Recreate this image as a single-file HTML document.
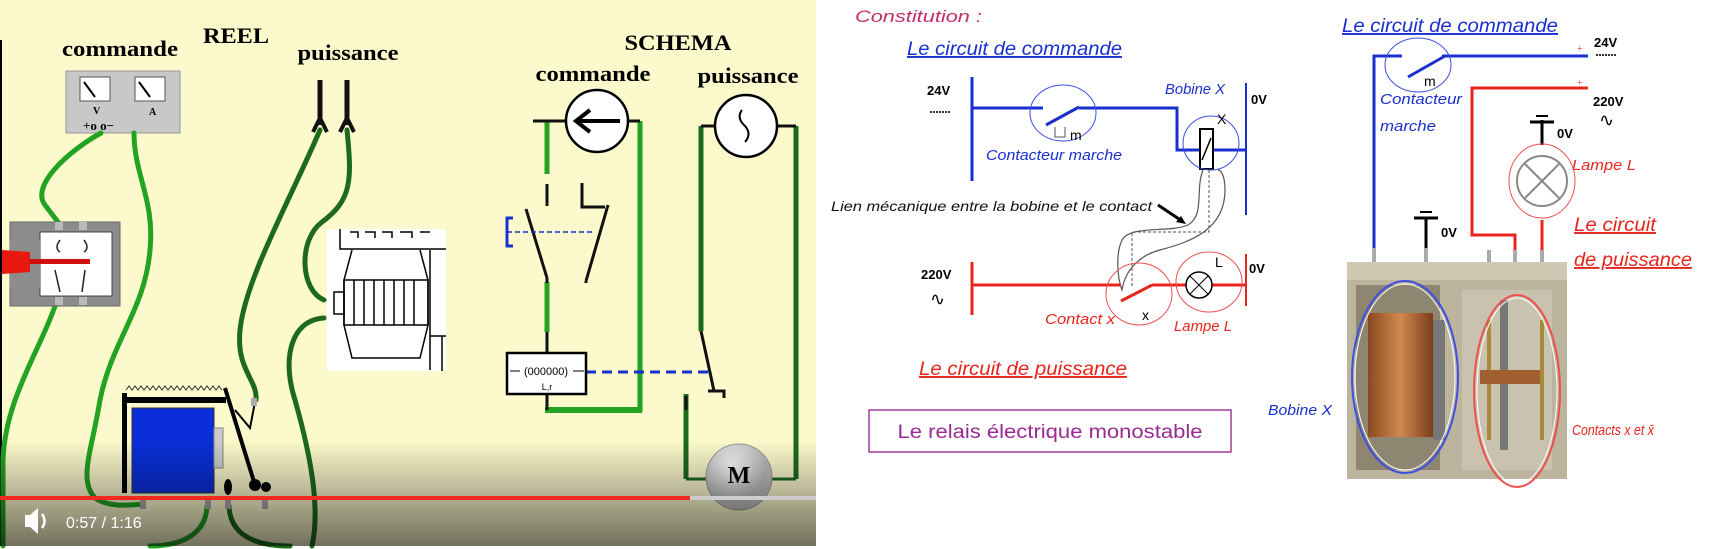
<!DOCTYPE html>
<html><head><meta charset="utf-8"><style>
html,body{margin:0;padding:0;background:#fff;width:1711px;height:549px;overflow:hidden}
svg{display:block}
.s{font-family:"Liberation Serif",serif;font-weight:bold}
.a{font-family:"Liberation Sans",sans-serif;font-style:italic}
</style></head><body>
<svg width="1711" height="549" viewBox="0 0 1711 549" xmlns="http://www.w3.org/2000/svg">
<defs>
<linearGradient id="vb" x1="0" y1="0" x2="0" y2="1"><stop offset="0" stop-color="#000" stop-opacity="0"/><stop offset="1" stop-color="#000" stop-opacity="0.55"/></linearGradient>
<linearGradient id="cu" x1="0" y1="0" x2="1" y2="0"><stop offset="0" stop-color="#8a4a20"/><stop offset="0.5" stop-color="#d08850"/><stop offset="1" stop-color="#7a3e18"/></linearGradient>
<radialGradient id="mg" cx="0.4" cy="0.35"><stop offset="0" stop-color="#fff"/><stop offset="1" stop-color="#bbb"/></radialGradient>
</defs>
<!-- LEFT PANEL -->
<rect x="0" y="0" width="816" height="546" fill="#fcf9cc"/>
<line x1="1" y1="40" x2="1" y2="546" stroke="#000" stroke-width="2"/>
<text class="s" x="120" y="56" font-size="22" text-anchor="middle" textLength="116" lengthAdjust="spacingAndGlyphs">commande</text>
<text class="s" x="236" y="43" font-size="22" text-anchor="middle" textLength="66" lengthAdjust="spacingAndGlyphs">REEL</text>
<text class="s" x="348" y="60" font-size="22" text-anchor="middle" textLength="101" lengthAdjust="spacingAndGlyphs">puissance</text>
<text class="s" x="678" y="50" font-size="22" text-anchor="middle" textLength="107" lengthAdjust="spacingAndGlyphs">SCHEMA</text>
<text class="s" x="593" y="81" font-size="22" text-anchor="middle" textLength="115" lengthAdjust="spacingAndGlyphs">commande</text>
<text class="s" x="748" y="83" font-size="22" text-anchor="middle" textLength="101" lengthAdjust="spacingAndGlyphs">puissance</text>
<!-- meter -->
<rect x="66" y="71" width="114" height="62" fill="#c8c8c8" stroke="#999"/>
<rect x="80" y="77" width="30" height="24" fill="#fff" stroke="#555"/>
<rect x="135" y="77" width="30" height="24" fill="#fff" stroke="#555"/>
<line x1="84" y1="82" x2="95" y2="97" stroke="#000" stroke-width="2"/>
<line x1="139" y1="82" x2="150" y2="97" stroke="#000" stroke-width="2"/>
<text class="s" x="93" y="114" font-size="10">V</text><text class="s" x="149" y="115" font-size="10">A</text>
<text class="s" x="83" y="130" font-size="13">+o o−</text>
<!-- light green wires (commande) -->
<g fill="none" stroke="#22a322" stroke-width="5" stroke-linecap="round">
<path d="M101,133 C70,150 30,185 45,205 L58,222"/>
<path d="M134,133 C134,175 155,200 150,250 C145,310 112,340 100,400 C92,450 78,480 95,498 C110,508 130,505 143,504"/>
<path d="M55,306 C40,350 5,400 3,460 L3,546"/>
<path d="M207,506 C206,535 180,546 150,546"/>
</g>
<!-- dark green wires (puissance) -->
<g fill="none" stroke="#1d6a1d" stroke-width="5" stroke-linecap="round">
<path d="M320,130 C290,200 245,280 240,330 C236,370 258,380 256,400"/>
<path d="M347,130 C352,180 352,200 322,222 C298,240 300,290 324,300"/>
<path d="M324,318 C290,320 282,360 295,400 C312,460 320,510 312,546"/>
<path d="M229,506 C230,535 255,546 290,546"/>
</g>
<!-- plugs -->
<g stroke="#111" stroke-width="5" fill="none"><line x1="320" y1="80" x2="320" y2="125"/><line x1="347" y1="80" x2="347" y2="125"/>
<path d="M313,132 L320,118 L327,132" stroke-width="4"/><path d="M340,132 L347,118 L354,132" stroke-width="4"/></g>
<!-- switch box -->
<rect x="10" y="222" width="110" height="84" fill="#8c8c8c" stroke="#666"/>
<rect x="40" y="232" width="72" height="64" fill="#fff" stroke="#444"/>
<rect x="10" y="240" width="30" height="48" fill="#8c8c8c"/>
<path d="M2,250 L30,252 L30,272 L2,274 Z" fill="#e81a10"/>
<rect x="30" y="259" width="60" height="5" fill="#d01010"/>
<g stroke="#222" stroke-width="1.5" fill="none"><line x1="55" y1="270" x2="60" y2="292"/><line x1="85" y1="270" x2="82" y2="292"/><path d="M60,240 q-6,8 0,12"/><path d="M84,240 q6,8 0,12"/></g>
<rect x="55" y="222" width="8" height="8" fill="#bbb"/><rect x="79" y="222" width="8" height="8" fill="#bbb"/>
<rect x="55" y="297" width="8" height="8" fill="#bbb"/><rect x="79" y="297" width="8" height="8" fill="#bbb"/>
<!-- motor picture -->
<rect x="327" y="229" width="119" height="142" fill="#fff"/>
<g stroke="#000" stroke-width="1.5" fill="none">
<path d="M340,229 v20 h106"/><path d="M350,232 h8 v6 M365,232 h10 v6 M382,232 h10 v6 M400,232 h12 v6 M420,232 h10"/>
<path d="M352,250 L344,280 L344,325 L352,358 L420,358 L428,325 L428,280 L420,250"/>
<rect x="344" y="280" width="84" height="45"/><path d="M354,280v45 M364,280v45 M374,280v45 M384,280v45 M394,280v45 M404,280v45 M414,280v45"/>
<rect x="334" y="292" width="10" height="22"/><path d="M430,250 v120 M430,336 h16 M442,336 v35"/>
</g>
<!-- relay real -->
<path d="M126,390 l3,-4 l3,4 l3,-4 l3,4 l3,-4 l3,4 l3,-4 l3,4 l3,-4 l3,4 l3,-4 l3,4 l3,-4 l3,4 l3,-4 l3,4 l3,-4 l3,4 l3,-4 l3,4 l3,-4 l3,4 l3,-4 l3,4 l3,-4 l3,4 l3,-4 l3,4 l3,-4 l3,4 l3,-4 l3,4" fill="none" stroke="#333" stroke-width="1"/>
<rect x="122" y="393" width="5" height="100" fill="#000"/>
<rect x="122" y="397" width="104" height="6" fill="#000"/>
<rect x="132" y="408" width="82" height="85" fill="#0a2fd8" stroke="#333"/>
<rect x="214" y="428" width="9" height="40" fill="#ccc" stroke="#888"/>
<line x1="225" y1="388" x2="255" y2="485" stroke="#000" stroke-width="4"/>
<path d="M235,410 L250,428 L255,402" fill="none" stroke="#000" stroke-width="2"/>
<circle cx="255" cy="485" r="6" fill="#000"/><circle cx="266" cy="487" r="5" fill="#000"/>
<ellipse cx="228" cy="487" rx="4" ry="8" fill="#000"/>
<rect x="251" y="398" width="6" height="8" fill="#aaa"/>
<g fill="#aaa"><rect x="140" y="500" width="6" height="9"/><rect x="205" y="500" width="6" height="9"/><rect x="225" y="500" width="6" height="9"/><rect x="262" y="500" width="6" height="9"/></g>
<!-- SCHEMA -->
<g fill="none" stroke-width="5" stroke-linecap="butt">
<line x1="547" y1="121" x2="547" y2="174" stroke="#22a322"/>
<line x1="640" y1="121" x2="640" y2="412" stroke="#22a322"/>
<line x1="545" y1="410" x2="642" y2="410" stroke="#22a322" stroke-width="6"/>
<line x1="547" y1="282" x2="547" y2="332" stroke="#22a322"/>
<line x1="701" y1="126" x2="701" y2="331" stroke="#1d6a1d"/>
<line x1="796" y1="126" x2="796" y2="479" stroke="#1d6a1d"/>
<line x1="686" y1="394" x2="686" y2="479" stroke="#1d6a1d"/>
<line x1="686" y1="479" x2="712" y2="479" stroke="#1d6a1d" stroke-width="3"/>
<line x1="766" y1="479" x2="796" y2="479" stroke="#1d6a1d" stroke-width="3"/>
</g>
<g stroke="#111" stroke-width="3" fill="none">
<line x1="547" y1="184" x2="547" y2="206"/>
<line x1="526" y1="209" x2="547" y2="278"/>
<line x1="547" y1="278" x2="547" y2="283"/>
<path d="M582,183 V207 H605"/>
<line x1="608" y1="205" x2="586" y2="281"/>
<line x1="586" y1="281" x2="586" y2="283"/>
<line x1="547" y1="332" x2="547" y2="353"/><line x1="547" y1="394" x2="547" y2="410"/>
<line x1="701" y1="331" x2="714" y2="391"/>
<path d="M708,391 H724 V398"/>
<line x1="686" y1="396" x2="686" y2="410"/>
<line x1="533" y1="121" x2="566" y2="121"/><line x1="628" y1="121" x2="640" y2="121"/>
<line x1="701" y1="126" x2="715" y2="126"/><line x1="777" y1="126" x2="796" y2="126"/>
</g>
<path d="M513,218 H507 V246 H513" fill="none" stroke="#1a2fd0" stroke-width="3"/>
<line x1="507" y1="232" x2="594" y2="232" stroke="#1a2fd0" stroke-width="1.5" stroke-dasharray="5,3"/>
<line x1="586" y1="372" x2="709" y2="372" stroke="#1a2fd0" stroke-width="3" stroke-dasharray="10,6"/>
<circle cx="597" cy="121" r="31" fill="#fff" stroke="#000" stroke-width="2.5"/>
<path d="M620,121 H578 M590,110 L576,121 L590,132" fill="none" stroke="#000" stroke-width="4"/>
<circle cx="746" cy="126" r="31" fill="#fff" stroke="#000" stroke-width="2.5"/>
<path d="M742,110 q-6,8 3,16 q7,8 0,16" fill="none" stroke="#000" stroke-width="2"/>
<rect x="507" y="353" width="79" height="41" fill="#fff" stroke="#000" stroke-width="2.5"/>
<line x1="510" y1="371" x2="520" y2="371" stroke="#000"/><line x1="573" y1="371" x2="584" y2="371" stroke="#000"/>
<text x="546" y="375" font-family="Liberation Sans" font-size="11" text-anchor="middle">(000000)</text>
<text x="547" y="390" font-family="Liberation Sans" font-size="9" text-anchor="middle">L,r</text>
<circle cx="739" cy="477" r="33" fill="url(#mg)" stroke="#999"/>
<text class="s" x="739" y="483" font-size="24" text-anchor="middle">M</text>
<text class="s" x="739" y="504" font-size="18" text-anchor="middle">~</text>
<!-- video controls -->
<rect x="0" y="440" width="816" height="106" fill="url(#vb)"/>
<rect x="0" y="496" width="690" height="4" fill="#f0281e"/>
<rect x="690" y="496" width="126" height="4" fill="#ccc"/>
<path d="M25,515 h5 l8,-7 v26 l-8,-7 h-5 z" fill="#fff"/>
<path d="M42,514 q5,7 0,14" fill="none" stroke="#fff" stroke-width="2.5"/>
<text x="66" y="528" font-family="Liberation Sans" font-size="16" fill="#fff">0:57 / 1:16</text>

<!-- RIGHT PANEL -->
<text class="a" x="855" y="22" font-size="17" fill="#c33066" textLength="127" lengthAdjust="spacingAndGlyphs">Constitution :</text>
<g class="a" font-size="19">
<text x="907" y="55" fill="#1a2fd0" textLength="215" lengthAdjust="spacingAndGlyphs" text-decoration="underline">Le circuit de commande</text>
<text x="919" y="375" fill="#e8251c" textLength="208" lengthAdjust="spacingAndGlyphs" text-decoration="underline">Le circuit de puissance</text>
<text x="1342" y="32" fill="#1a2fd0" textLength="216" lengthAdjust="spacingAndGlyphs" text-decoration="underline">Le circuit de commande</text>
<text x="1574" y="231" fill="#e8251c" textLength="82" lengthAdjust="spacingAndGlyphs" text-decoration="underline">Le circuit</text>
<text x="1574" y="266" fill="#e8251c" textLength="118" lengthAdjust="spacingAndGlyphs" text-decoration="underline">de puissance</text>
</g>
<g font-family="Liberation Sans" font-weight="bold" font-size="13">
<text x="927" y="95">24V</text><text x="1251" y="104">0V</text><text x="921" y="279">220V</text><text x="1249" y="273">0V</text>
<text x="1594" y="47">24V</text><text x="1593" y="106">220V</text><text x="1557" y="138">0V</text><text x="1441" y="237">0V</text>
</g>
<line x1="930" y1="112" x2="951" y2="112" stroke="#333" stroke-width="2" stroke-dasharray="2,1"/>
<line x1="1596" y1="55" x2="1617" y2="55" stroke="#333" stroke-width="2" stroke-dasharray="2,1"/>
<text x="930" y="305" font-size="18" font-family="DejaVu Sans">∿</text>
<text x="1599" y="126" font-size="18" font-family="DejaVu Sans">∿</text>
<!-- left schematic blue -->
<g stroke="#1a2fd0" stroke-width="3" fill="none">
<line x1="972" y1="77" x2="972" y2="181"/>
<path d="M972,108 H1043"/><path d="M1079,108 H1177 V150 H1246"/>
<line x1="1046" y1="125" x2="1079" y2="107"/>
<line x1="1246" y1="83" x2="1246" y2="215" stroke-width="2"/>
</g>
<rect x="1200" y="129" width="13" height="40" fill="#fff" stroke="#000" stroke-width="2"/>
<line x1="1202" y1="160" x2="1211" y2="138" stroke="#000" stroke-width="1.5"/>
<g fill="none" stroke="#3a50e0" stroke-width="1"><ellipse cx="1063" cy="113" rx="33" ry="28"/><ellipse cx="1211" cy="143" rx="28" ry="27"/></g>
<path d="M1055,127 v10 h10 v-10" fill="none" stroke="#555" stroke-width="1"/>
<g class="a" font-size="15" fill="#1a2fd0">
<text x="1165" y="94" textLength="60" lengthAdjust="spacingAndGlyphs">Bobine X</text>
<text x="986" y="160" textLength="136" lengthAdjust="spacingAndGlyphs">Contacteur marche</text>
<text x="1380" y="104" textLength="82" lengthAdjust="spacingAndGlyphs">Contacteur</text>
<text x="1380" y="131" textLength="56" lengthAdjust="spacingAndGlyphs">marche</text>
<text x="1268" y="415" textLength="64" lengthAdjust="spacingAndGlyphs">Bobine X</text>
</g>
<g font-family="Liberation Sans" font-size="14" fill="#000"><text x="1070" y="140">m</text><text x="1217" y="124">X</text><text x="1215" y="267">L</text><text x="1142" y="320">x</text><text x="1424" y="86">m</text></g>
<text class="a" x="831" y="211" font-size="14" fill="#111" textLength="321" lengthAdjust="spacingAndGlyphs">Lien mécanique entre la bobine et le contact</text>
<path d="M1158,205 L1182,221" stroke="#000" stroke-width="3"/><path d="M1186,224 l-10,-2 l5,-6 z" fill="#000"/>
<path d="M1203,170 C1195,190 1205,215 1188,225 C1170,233 1130,225 1122,240 C1115,255 1118,280 1122,290 C1125,270 1140,255 1160,250 C1190,242 1225,230 1225,190 C1225,178 1222,170 1218,170" fill="none" stroke="#555" stroke-width="1.2"/>
<path d="M1209,170 V232 H1132 V288" fill="none" stroke="#555" stroke-width="1" stroke-dasharray="3,2"/>
<!-- red left -->
<g stroke="#e8251c" stroke-width="3" fill="none">
<line x1="972" y1="262" x2="972" y2="315"/>
<path d="M972,285 H1121 M1152,285 H1246"/>
<line x1="1121" y1="301" x2="1152" y2="285"/>
<line x1="1246" y1="254" x2="1246" y2="306" stroke-width="2"/>
</g>
<circle cx="1199" cy="285" r="13" fill="#fff" stroke="#000" stroke-width="1.5"/>
<path d="M1190,276 L1208,294 M1208,276 L1190,294" stroke="#000" stroke-width="1"/>
<g fill="none" stroke="#ee5050" stroke-width="1"><ellipse cx="1139" cy="294" rx="33" ry="31"/><ellipse cx="1209" cy="282" rx="33" ry="30"/></g>
<g class="a" font-size="15" fill="#e8251c">
<text x="1045" y="324" textLength="70" lengthAdjust="spacingAndGlyphs">Contact x</text>
<text x="1174" y="331" textLength="58" lengthAdjust="spacingAndGlyphs">Lampe L</text>
<text x="1572" y="170" textLength="64" lengthAdjust="spacingAndGlyphs">Lampe L</text>
<text x="1572" y="435" textLength="82" lengthAdjust="spacingAndGlyphs">Contacts x et x̄</text>
</g>
<rect x="869" y="410" width="362" height="42" fill="#fff" stroke="#a03c96" stroke-width="1.5"/>
<text x="1050" y="438" font-family="Liberation Sans" font-size="19" fill="#9a2a92" text-anchor="middle" textLength="305" lengthAdjust="spacingAndGlyphs">Le relais électrique monostable</text>
<!-- right relay -->
<g stroke="#1a2fd0" stroke-width="3" fill="none">
<path d="M1374,262 V56 H1402 M1442,56 H1588"/>
<line x1="1408" y1="77" x2="1445" y2="56"/>
</g>
<ellipse cx="1418" cy="65" rx="33" ry="27" fill="none" stroke="#3a50e0" stroke-width="1"/>
<path d="M1588,88 H1472 V235 H1515 V262" fill="none" stroke="#e8251c" stroke-width="3"/>
<line x1="1542" y1="220" x2="1542" y2="262" stroke="#e8251c" stroke-width="3"/>
<g stroke="#000" stroke-width="3"><line x1="1542" y1="120" x2="1542" y2="145"/><line x1="1530" y1="122" x2="1554" y2="122"/><line x1="1536" y1="116" x2="1548" y2="116" stroke-width="2"/>
<line x1="1426" y1="217" x2="1426" y2="262"/><line x1="1414" y1="218" x2="1438" y2="218"/><line x1="1420" y1="212" x2="1432" y2="212" stroke-width="2"/></g>
<ellipse cx="1542" cy="181" rx="33" ry="37" fill="none" stroke="#ee5050" stroke-width="1"/>
<circle cx="1542" cy="181" r="25" fill="#fff" stroke="#888" stroke-width="2"/>
<path d="M1525,164 L1559,198 M1559,164 L1525,198" stroke="#888" stroke-width="2"/>
<text x="1577" y="52" font-size="10" fill="#e33">+</text><text x="1577" y="86" font-size="10" fill="#e33">+</text>
<!-- photo -->
<g fill="#aaa"><rect x="1372" y="248" width="4" height="16"/><rect x="1424" y="248" width="4" height="16"/><rect x="1487" y="250" width="4" height="14"/><rect x="1513" y="250" width="4" height="14"/><rect x="1540" y="250" width="4" height="14"/></g>
<rect x="1347" y="262" width="220" height="217" fill="#bcb49c"/>
<rect x="1347" y="262" width="220" height="18" fill="#cfc8b2"/>
<rect x="1356" y="285" width="84" height="185" fill="#8e8670"/>
<rect x="1368" y="313" width="65" height="124" fill="url(#cu)"/>
<rect x="1433" y="320" width="12" height="120" fill="#777"/>
<rect x="1462" y="290" width="90" height="180" fill="#c8c2ae"/>
<rect x="1487" y="320" width="4" height="120" fill="#a88a3a"/><rect x="1540" y="320" width="4" height="120" fill="#a88a3a"/>
<rect x="1500" y="300" width="8" height="150" fill="#777"/><rect x="1480" y="370" width="60" height="14" fill="#a06030"/>
<ellipse cx="1405" cy="377" rx="53" ry="96" fill="none" stroke="#4050e0" stroke-width="2"/>
<ellipse cx="1405" cy="377" rx="50" ry="93" fill="none" stroke="#fff" stroke-width="1"/>
<ellipse cx="1517" cy="391" rx="43" ry="96" fill="none" stroke="#ee5050" stroke-width="2"/>
<ellipse cx="1517" cy="391" rx="40" ry="93" fill="none" stroke="#fff" stroke-width="1"/>
</svg>
</body></html>
